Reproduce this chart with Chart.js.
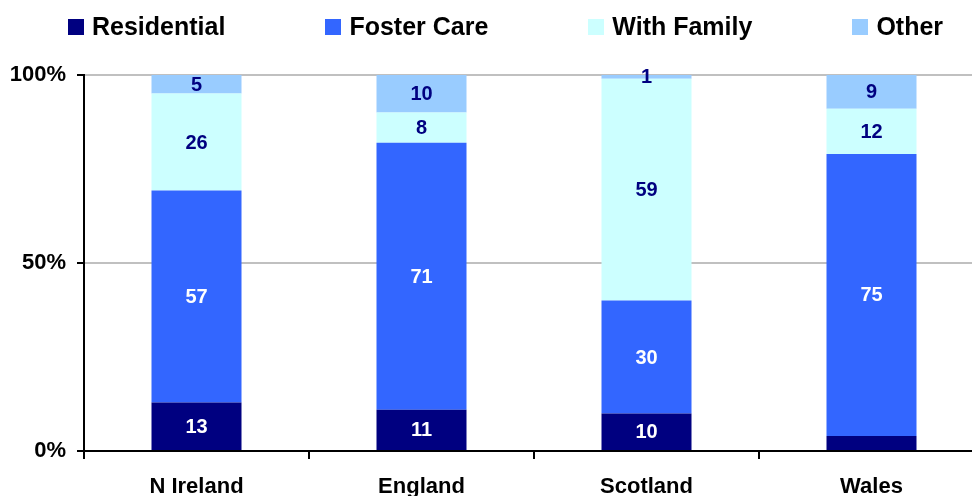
<!DOCTYPE html>
<html>
<head>
<meta charset="utf-8">
<script src="https://cdn.jsdelivr.net/npm/chart.js@4.4.1/dist/chart.umd.min.js"></script>
<style>
    body { margin: 0; overflow: hidden; background: #fff; }
    #wrap { position: relative; width: 1000px; height: 496px; }
    #legend {
        position: absolute; top: 12px; left: 68px;
        display: flex; gap: 100px;
        font: bold 25px "Liberation Sans", Arial, sans-serif; color: #000;
    }
    .item { display: flex; align-items: center; }
    .swatch { width: 16px; height: 16px; margin-right: 8px; }
</style>
</head>
<body>
<div id="wrap">
    <div id="legend"></div>
    <canvas id="placementChart" width="1000" height="496"></canvas>
</div>
<script>
// Chart data (percent of placements)
const countries = ['N Ireland', 'England', 'Scotland', 'Wales'];
const residential = [13, 11, 10, 4];
const fosterCare = [57, 71, 30, 75];
const withFamily = [26, 8, 59, 12];
const other = [5, 10, 1, 9];
const yTicks = [0, 50, 100];

const seriesNames = ['Residential', 'Foster Care', 'With Family', 'Other'];
const seriesColors = ['#000080', '#3366FF', '#CCFFFF', '#99CCFF'];
const labelColors = ['#FFFFFF', '#FFFFFF', '#000080', '#000080'];
// labels removed in the original: [dataset, index]
const hiddenLabels = [[0, 3]];

const FONT = '"Liberation Sans", Arial, sans-serif';

// totals so every bar is scaled to 100%
const allSeries = [residential, fosterCare, withFamily, other];
const totals = countries.map((c, i) => allSeries.reduce((s, arr) => s + arr[i], 0));
const toPct = arr => arr.map((v, i) => v / totals[i] * 100);

// HTML legend
const legend = document.getElementById('legend');
seriesNames.forEach((name, i) => {
    const item = document.createElement('div');
    item.className = 'item';
    item.innerHTML = `<span class="swatch" style="background:${seriesColors[i]}"></span>${name}`;
    legend.appendChild(item);
});

// Draw value labels in the middle of each segment
const segmentLabels = {
    id: 'segmentLabels',
    afterDatasetsDraw(chart) {
        const ctx = chart.ctx;
        ctx.save();
        ctx.font = `bold 20px ${FONT}`;
        ctx.textAlign = 'center';
        ctx.textBaseline = 'middle';
        chart.data.datasets.forEach((ds, di) => {
            const meta = chart.getDatasetMeta(di);
            meta.data.forEach((bar, i) => {
                if (hiddenLabels.some(h => h[0] === di && h[1] === i)) return;
                const y = (bar.y + bar.base) / 2;
                ctx.fillStyle = labelColors[di];
                ctx.fillText(String(ds.raw[i]), bar.x, y + 1);
            });
        });
        ctx.restore();
    }
};

const ctx = document.getElementById('placementChart').getContext('2d');
new Chart(ctx, {
    type: 'bar',
    data: {
        labels: countries,
        datasets: allSeries.map((arr, i) => ({
            label: seriesNames[i],
            data: toPct(arr),
            raw: arr,
            backgroundColor: seriesColors[i],
            borderWidth: 0,
            barPercentage: 0.4,
            categoryPercentage: 1
        }))
    },
    options: {
        responsive: false,
        animation: false,
        layout: { padding: { top: 75, right: 16, left: 0, bottom: 0 } },
        plugins: {
            legend: { display: false },
            tooltip: { enabled: false }
        },
        scales: {
            x: {
                stacked: true,
                afterFit: scale => { scale.height = 45; },
                grid: {
                    offset: true,
                    drawOnChartArea: false,
                    color: '#000',
                    lineWidth: 2,
                    tickLength: 8
                },
                border: { color: '#000', width: 2 },
                ticks: {
                    color: '#000',
                    padding: 15,
                    font: { family: FONT, size: 22, weight: 'bold' }
                }
            },
            y: {
                stacked: true,
                min: 0,
                max: 100,
                afterFit: scale => { scale.width = 84; },
                afterBuildTicks: scale => { scale.ticks = yTicks.map(v => ({ value: v })); },
                grid: {
                    color: c => (c.tick && c.tick.value === 0) ? 'rgba(0,0,0,0)' : '#C0C0C0',
                    lineWidth: 2,
                    tickColor: '#000',
                    tickLength: 7
                },
                border: { color: '#000', width: 2 },
                ticks: {
                    color: '#000',
                    padding: 11,
                    font: { family: FONT, size: 22, weight: 'bold' },
                    callback: v => v + '%'
                }
            }
        }
    },
    plugins: [segmentLabels]
});
</script>
</body>
</html>
